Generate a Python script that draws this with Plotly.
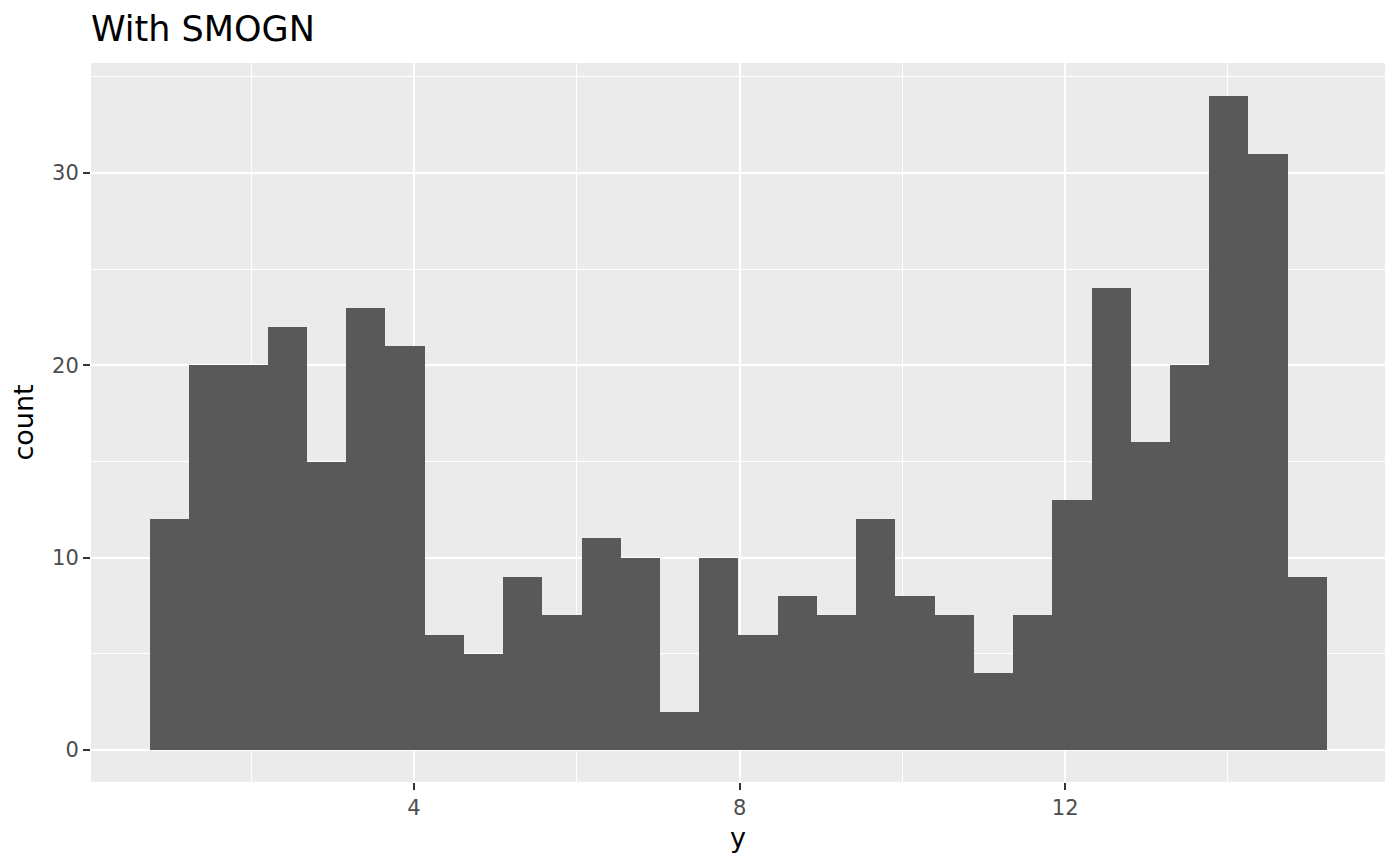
import plotly.graph_objects as go

# Histogram data (30 bins)
bin_start = 0.756
bin_width = 0.482
counts = [12, 20, 20, 22, 15, 23, 21, 6, 5, 9, 7, 11, 10, 2, 10,
          6, 8, 7, 12, 8, 7, 4, 7, 13, 24, 16, 20, 34, 31, 9]
x_ticks = [4, 8, 12]
x_minor = [2, 6, 10, 14]
y_ticks = [0, 10, 20, 30]
y_minor = [5, 15, 25, 35]

centers = [bin_start + bin_width * (i + 0.5) for i in range(len(counts))]

fig = go.Figure(go.Bar(
    x=centers, y=counts, width=[bin_width] * len(counts),
    marker=dict(color="#595959", line=dict(width=0)),
    hoverinfo="x+y",
))

fig.update_layout(
    width=1392, height=858,
    margin=dict(l=83, r=15, t=55, b=84),
    paper_bgcolor="white", plot_bgcolor="#EBEBEB",
    bargap=0,
    font=dict(family="DejaVu Sans, Liberation Sans, sans-serif", color="black"),
    title=dict(text="With SMOGN", x=0, xref="paper", xanchor="left",
               y=1 - 21 / 858, yref="container", yanchor="middle",
               font=dict(size=35, color="black")),
    showlegend=False,
)

fig.update_xaxes(
    range=[0.031, 15.93], tickvals=x_ticks, ticktext=[str(v) for v in x_ticks],
    showgrid=True, gridcolor="white", gridwidth=2.4,
    minor=dict(tickvals=x_minor, showgrid=True, gridcolor="white", gridwidth=1.3, ticks=""),
    ticks="outside", ticklen=7, tickcolor="#333333", tickwidth=2,
    tickfont=dict(size=21, color="#4D4D4D"),
    title=dict(text="y", font=dict(size=27, color="black"), standoff=8),
    zeroline=False, showline=False,
)
fig.update_yaxes(
    range=[-1.66, 35.72], tickvals=y_ticks, ticktext=[str(v) for v in y_ticks],
    showgrid=True, gridcolor="white", gridwidth=2.4,
    minor=dict(tickvals=y_minor, showgrid=True, gridcolor="white", gridwidth=1.3, ticks=""),
    ticks="outside", ticklen=7, tickcolor="#333333", tickwidth=2,
    tickfont=dict(size=21, color="#4D4D4D"),
    title=dict(text="count", font=dict(size=27, color="black"), standoff=12),
    zeroline=False, showline=False,
)

fig.write_html("out.html")
